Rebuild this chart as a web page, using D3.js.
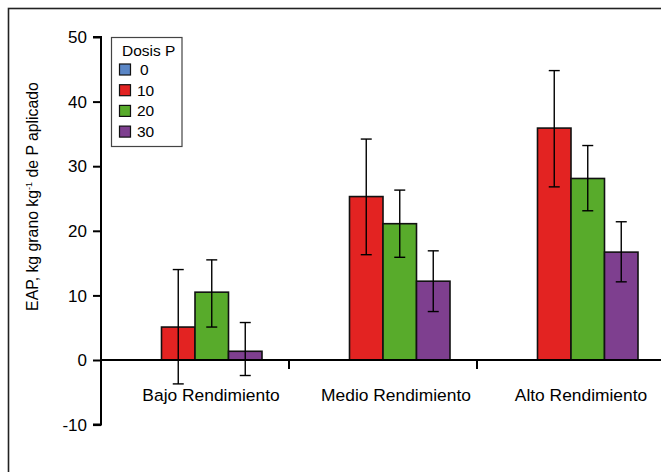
<!DOCTYPE html>
<html><head><meta charset="utf-8">
<script src="https://cdn.jsdelivr.net/npm/d3@7"></script>
<style>body{margin:0;background:#fff}svg{display:block}text{font-family:"Liberation Sans",Arial,sans-serif;fill:#000}</style>
</head><body><svg id="c" width="661" height="472"></svg>
<script>
const categories = ["Bajo Rendimiento", "Medio Rendimiento", "Alto Rendimiento"];
const doses = ["0", "10", "20", "30"];
const colors = ["#5a86c6", "#e32322", "#58ab2b", "#7e3f8f"];
// values per dose (rows) per category (cols); dose 0 has no bar
const values = [
  [0, 0, 0],
  [5.1, 25.3, 35.9],
  [10.5, 21.1, 28.1],
  [1.35, 12.2, 16.7]
];
const errLow = [
  [0, 0, 0],
  [-3.7, 16.3, 26.8],
  [5.1, 15.9, 23.1],
  [-2.4, 7.5, 12.1]
];
const errHigh = [
  [0, 0, 0],
  [14.0, 34.2, 44.8],
  [15.5, 26.3, 33.2],
  [5.8, 16.9, 21.4]
];
const yTicks = [-10, 0, 10, 20, 30, 40, 50];

const svg = d3.select("#c");
svg.append("rect").attr("x", 8.5).attr("y", 8.5).attr("width", 700).attr("height", 500)
  .attr("fill", "none").attr("stroke", "#222").attr("stroke-width", 1.6);

const y = d3.scaleLinear().domain([-10, 50]).range([424.6, 37]);
const x0 = d3.scaleBand().domain(categories).range([101, 665]).paddingInner(0).paddingOuter(0);
const x1 = d3.scaleBand().domain(doses).range([27, 188 - 27]).padding(0);

// y axis
const ya = svg.append("g").attr("transform", "translate(101,0)")
  .call(d3.axisLeft(y).tickValues(yTicks).tickSize(8).tickPadding(6).tickFormat(d => String(d)));
ya.select(".domain").attr("stroke-width", 2).attr("d", `M-8,${y(-10)}H0V${y(50)}H-8`);
ya.selectAll(".tick line").attr("stroke-width", 2);
ya.selectAll(".tick text").style("font-size", "17px").attr("dy", "0.34em")
  .attr("font-family", "Liberation Sans, Arial, sans-serif");

// bars
const groups = svg.append("g");
doses.forEach((d, i) => {
  if (i === 0) return;
  categories.forEach((c, j) => {
    const v = values[i][j];
    const xb = x0(c) + x1(d);
    groups.append("rect")
      .attr("x", xb).attr("width", x1.bandwidth())
      .attr("y", y(Math.max(v, 0))).attr("height", Math.abs(y(v) - y(0)))
      .attr("fill", colors[i]).attr("stroke", "#111").attr("stroke-width", 1.6);
  });
});

// x axis (drawn over bar bottoms)
const xa = svg.append("g").attr("transform", `translate(0,${y(0)})`);
xa.append("line").attr("x1", 101).attr("x2", 661).attr("stroke", "#000").attr("stroke-width", 2);
categories.slice(1).forEach(c => {
  xa.append("line").attr("x1", x0(c)).attr("x2", x0(c)).attr("y1", 0).attr("y2", 9)
    .attr("stroke", "#000").attr("stroke-width", 2);
});
const labelShift = [16, 13, 10];
categories.forEach((c, j) => {
  xa.append("text").attr("x", x0(c) + x0.bandwidth() / 2 + labelShift[j]).attr("y", 41)
    .attr("text-anchor", "middle").style("font-size", "17.4px").text(c);
});

// error bars
doses.forEach((d, i) => {
  if (i === 0) return;
  categories.forEach((c, j) => {
    const cx = x0(c) + x1(d) + x1.bandwidth() / 2;
    const g = svg.append("g").attr("stroke", "#000").attr("stroke-width", 1.4);
    g.append("line").attr("x1", cx).attr("x2", cx).attr("y1", y(errLow[i][j])).attr("y2", y(errHigh[i][j]));
    [errLow[i][j], errHigh[i][j]].forEach(e => {
      g.append("line").attr("x1", cx - 5.5).attr("x2", cx + 5.5).attr("y1", y(e)).attr("y2", y(e));
    });
  });
});

// y label
const yl = svg.append("text").attr("transform", "translate(38,196.5) rotate(-90)")
  .attr("text-anchor", "middle").style("font-size", "15.8px");
yl.append("tspan").text("EAP, kg grano kg");
yl.append("tspan").attr("dy", -6).style("font-size", "9px").text("-1");
yl.append("tspan").attr("dy", 6).text(" de P aplicado");

// legend
const lg = svg.append("g");
lg.append("rect").attr("x", 111.5).attr("y", 37.5).attr("width", 70.5).attr("height", 109)
  .attr("fill", "#fff").attr("stroke", "#444").attr("stroke-width", 1.2);
lg.append("text").attr("x", 122).attr("y", 56).style("font-size", "15.5px").text("Dosis P");
doses.forEach((d, i) => {
  const cy = 69.5 + i * 20.7;
  lg.append("rect").attr("x", 119.5).attr("y", cy - 5.5).attr("width", 11).attr("height", 11)
    .attr("fill", colors[i]).attr("stroke", "#111").attr("stroke-width", 1.2);
  lg.append("text").attr("x", i === 0 ? 140 : 137).attr("y", cy + 5.5).style("font-size", "15.5px").text(d);
});
</script></body></html>
